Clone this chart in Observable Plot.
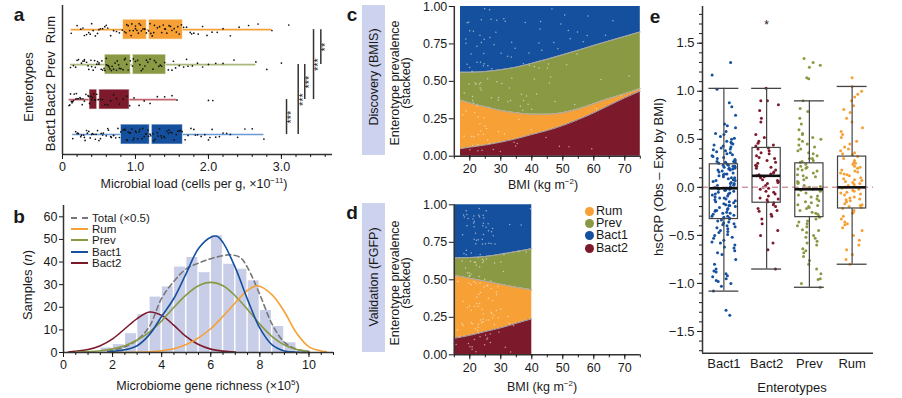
<!DOCTYPE html>
<html><head><meta charset="utf-8">
<script src="https://cdn.jsdelivr.net/npm/d3@7"></script>
<script src="https://cdn.jsdelivr.net/npm/@observablehq/plot@0.6"></script>
<style>
body{margin:0;background:#fff;}
#fig{position:relative;width:902px;height:398px;overflow:hidden;font-family:'Liberation Sans',Arial,Helvetica,sans-serif;color:#1a1a1a;}
#fig > svg, #fig > figure{position:absolute;margin:0;}
.lab{position:absolute;white-space:nowrap;font-size:12.5px;transform:translate(-50%,-50%);line-height:1;}
.rot{transform:translate(-50%,-50%) rotate(-90deg);}
.letter{position:absolute;font-weight:bold;font-size:19px;transform:translate(-50%,-50%);}
sup{font-size:8px;vertical-align:5px;line-height:0;}
.box{position:absolute;background:#cdd3ee;}
.leg{position:absolute;font-size:12.5px;line-height:12px;white-space:nowrap;}
.leg span.dot{display:inline-block;width:9px;height:9px;border-radius:50%;margin-right:2px;vertical-align:-1px;}
.bleg{position:absolute;font-size:11.5px;white-space:nowrap;line-height:11px;}
.bleg span.ln{display:inline-block;width:17px;height:0;border-top:2px solid;vertical-align:3px;margin-right:4px;}
</style></head>
<body><div id="fig"></div>
<script>
// ---------- colours ----------
const COL = {Rum:"#f6a035", Prev:"#8a9944", Bact1:"#15509e", Bact2:"#7c1a2b"};
const TINT = {Rum:"#f6a035", Prev:"#aab97c", Bact1:"#6b9ad8", Bact2:"#c3646f"};

// ---------- panel a : microbial load ----------
const aCats = ["Bact1","Bact2","Prev","Rum"];
const aQ1  = [0.80, 0.37, 0.58, 0.83];
const aMed = [1.21, 0.49, 0.95, 1.17];
const aQ3  = [1.65, 0.92, 1.42, 1.65];
const aLo  = [0.14, 0.09, 0.11, 0.12];
const aHi  = [2.76, 1.57, 2.65, 2.87];
const loadBact1 = [0.14,0.18,0.22,0.26,0.3,0.33,0.36,0.4,0.43,0.46,0.5,0.53,0.56,0.6,0.63,0.66,0.7,0.73,0.76,0.8,0.83,0.86,0.89,0.92,0.95,0.98,1.0,1.03,1.06,1.09,1.12,1.15,1.18,1.21,1.24,1.27,1.3,1.33,1.36,1.4,1.43,1.46,1.5,1.53,1.56,1.6,1.64,1.68,1.72,1.76,1.8,1.85,1.9,1.95,2.0,2.05,2.1,2.15,2.2,2.25,2.3,2.4,2.5,2.6,2.76,0.9,0.97,1.1,1.2,1.35,1.45,0.7,0.55,1.25,1.05,0.25,0.38,0.48,0.62,0.78,0.88,1.14,1.31,1.48,1.58,0.21,0.34,0.45,0.29,0.41,0.52,0.67,0.85,0.93,1.01,1.17,1.39,1.62,1.82,2.02,0.2,0.31];
const loadBact2 = [0.09,0.1,0.12,0.14,0.16,0.18,0.2,0.22,0.25,0.28,0.3,0.32,0.35,0.37,0.39,0.41,0.43,0.45,0.47,0.49,0.52,0.55,0.58,0.62,0.66,0.7,0.74,0.78,0.83,0.88,0.92,0.98,1.05,1.12,1.2,1.3,1.4,1.5,1.57,2.0,2.06,0.15,0.27,0.4,0.44,0.11,0.13,0.19,0.24,0.36];
const loadPrev = [0.11,0.15,0.18,0.22,0.26,0.3,0.33,0.36,0.39,0.42,0.45,0.48,0.5,0.53,0.55,0.57,0.6,0.62,0.65,0.67,0.7,0.72,0.75,0.78,0.8,0.83,0.86,0.9,0.93,0.96,1.0,1.03,1.06,1.1,1.13,1.17,1.2,1.24,1.28,1.32,1.36,1.4,1.45,1.5,1.55,1.6,1.66,1.72,1.78,1.85,1.92,2.0,2.1,2.2,2.35,2.65,2.8,3.0,0.5,0.6,0.68,0.74,0.85,0.97,1.15,0.3,0.4,0.2,0.28,0.44,0.58,0.64,0.88,1.26,1.7,0.35,0.47,0.54,0.63,0.77,1.08,1.34,1.52];
const loadRum = [0.12,0.2,0.25,0.3,0.33,0.36,0.4,0.42,0.45,0.5,0.55,0.58,0.62,0.66,0.7,0.74,0.78,0.82,0.85,0.88,0.9,0.92,0.95,0.97,1.0,1.02,1.05,1.08,1.1,1.12,1.15,1.18,1.2,1.23,1.26,1.3,1.33,1.36,1.4,1.43,1.46,1.5,1.53,1.56,1.6,1.63,1.66,1.7,1.75,1.8,1.86,1.92,1.98,2.05,2.12,2.2,2.3,2.42,2.55,2.68,2.87,3.1,0.94,1.0,1.07,1.13,1.25,1.38,0.48,0.6,0.28,0.38,0.52,1.48,1.58,0.87,1.04,1.21,1.41,1.77];
const sigPairs = [["Bact1","Bact2"],["Bact1","Prev"],["Bact2","Prev"],["Bact2","Rum"],["Prev","Rum"]];
const sigLabels = ["***","***","***","***","**"];
const sigX = [3.07, 3.23, 3.32, 3.44, 3.54];

// ---------- panel b : gene richness ----------
const histX0 = [1.5,2,2.5,3,3.5,4,4.5,5,5.5,6,6.5,7,7.5,8,8.5,9,9.5];
const histN  = [2,3.5,8.3,16.7,24.5,29,37.8,42,35.3,51.6,39,36.8,31.7,18.6,11.5,4.3,1];
const curveX_Bact2 = [0.2,0.5,1,1.5,2,2.5,3,3.5,4,4.5,5,5.5,6,6.5,7];
const curveY_Bact2 = [0.2,0.5,1.3,3,6,10.5,15,17.9,16.4,12,7,3.5,1.5,0.6,0.2];
const curveX_Prev = [0.5,1,1.5,2,2.5,3,3.5,4,4.5,5,5.5,6,6.5,7,7.5,8,8.5,9,9.5,10];
const curveY_Prev = [0.2,0.4,0.8,1.6,3,5.5,9,14,20,25.5,29.5,31,29.5,25,19,12.5,7,3.3,1.3,0.4];
const curveX_Bact1 = [1.8,2,2.5,3,3.5,4,4.5,5,5.5,6,6.25,6.5,7,7.5,8,8.5,9,9.5,10];
const curveY_Bact1 = [0.2,0.5,1.2,3,7.9,16,24,35,46,51,51.4,48.6,37.5,23.4,10.8,3.4,0.7,0.1,0];
const curveX_Rum = [1.9,3,4,4.5,5,5.5,6,6.5,7,7.5,7.9,8.5,9,9.5,10,10.5,10.7];
const curveY_Rum = [0,0.1,0.8,1.7,3.5,6.5,10.5,16,22,27.5,29.5,25.5,18,8.5,2.5,0.7,0.4];
const curveX_Total = [1.8,2.5,3,3.5,4,4.5,5,5.5,6,6.5,6.8,7.2,7.5,8,8.5,9,9.5,10];
const curveY_Total = [0.5,2.5,5.5,11.5,24,31.5,37,39.5,41.5,42.8,43.2,42,37.5,25.6,12.5,4.5,1.5,0.4];

// ---------- panel c : discovery (BMIS) boundaries ----------
const cBMI   = [17,20,25,30,35,40,45,50,55,60,65,70,75];
const cBact2 = [0.05,0.06,0.075,0.094,0.117,0.145,0.172,0.205,0.245,0.29,0.34,0.39,0.435];
const cRum   = [0.375,0.355,0.33,0.305,0.29,0.28,0.28,0.29,0.315,0.35,0.385,0.417,0.452];
const cPrev  = [0.56,0.56,0.565,0.577,0.595,0.62,0.647,0.677,0.708,0.74,0.77,0.80,0.83];
const cSampleBMI = [17.5,18,18.4,18.9,19.3,19.8,20.2,20.6,21,21.3,21.7,22,22.2,22.5,22.8,23,23.3,23.5,23.8,24,24.2,24.5,24.8,25,25.3,25.6,26,26.4,26.8,27.2,27.7,28.1,28.6,29,29.5,30,30.6,31.2,31.8,32.4,33,33.7,34.3,35,35.6,36.3,37,37.7,38.4,39,39.8,40.5,41.2,42,42.8,43.5,44.3,45.1,46,46.8,47.7,48.6,49.5,50.5,51.5,52.6,53.8,55,56.3,57.7,59,60.5,62.2,64,66,68.5,71,19.1,20.9,21.9,22.6,23.4,24.1,24.7,25.8,27,28.4,30.3,32.8,35.3,38,41.5,44.8,48.2,52,23.7,25.1,26.2,21.5,22.1,20.4,36.7,40.1,43.1,38.9,18.7,19.6,20.7,21.2,22.4,23.1,24.4,26.6,29.7,33.2,45.6,54.3,18.2,19.9,21.1,22.3,23.6,24.9,27.5,31.5,34.7,37.2,39.4,42.4,47.1,50.9,58.2,20.1,22.9,25.5,28.9,33.9];

// ---------- panel d : validation (FGFP) boundaries ----------
const dBMI   = [15,20,25,30,35,40];
const dBact2 = [0.11,0.13,0.155,0.18,0.21,0.24];
const dRum   = [0.53,0.51,0.49,0.47,0.45,0.433];
const dPrev  = [0.645,0.648,0.655,0.67,0.688,0.707];
const dSampleBMI = [15.6,16.2,16.8,17.3,17.7,18,18.3,18.6,18.9,19.1,19.4,19.6,19.8,20,20.2,20.4,20.6,20.8,21,21.2,21.3,21.5,21.7,21.9,22,22.2,22.4,22.5,22.7,22.9,23,23.2,23.4,23.5,23.7,23.9,24,24.2,24.4,24.6,24.8,25,25.2,25.4,25.6,25.9,26.1,26.4,26.7,27,27.3,27.6,28,28.4,28.8,29.2,29.7,30.2,30.8,31.4,32,32.7,33.5,34.4,35.4,36.5,37.8,39.2,19.2,19.7,20.5,21.1,21.6,22.1,22.6,23.1,23.6,24.1,24.5,25.1,25.7,26.3,27.1,28.2,29.5,18.2,19.9,20.9,21.8,22.3,22.8,23.3,23.8,24.3,24.9,25.5,26.6,27.8,31,33,17.5,16.5,20.1,21.4,22.95,24.7,26.9,18.8,20.3,21.45,22.15,23.35,24.25,25.3,26.2,27.5,29,19.5,22.45,23.9,25.8,19.3,20.7,21.9,23.0,24.0,25.0,26.0,27.2,28.6,30.5,17.9,19.0,20.0,21.0,22.0,23.0,24.0,25.0,26.5,28.0,22.5,23.5,24.5,21.5,20.5];

// ---------- panel e : hsCRP residuals ----------
const eCats = ["Bact1","Bact2","Prev","Rum"];
const eQ1  = [-0.33,-0.16,-0.31,-0.22];
const eMed = [-0.01, 0.12,-0.02, 0.00];
const eQ3  = [ 0.24, 0.41, 0.25, 0.32];
const eLo  = [-1.08,-0.85,-1.04,-0.80];
const eHi  = [ 1.03, 1.03, 0.90, 1.05];
const eStarCat = ["Bact2"];
const eStarVal = [1.72];
const crpBact1 = [1.30,1.17,1.02,0.88,0.84,0.75,0.66,0.64,0.62,0.58,0.55,0.53,0.5,0.48,0.47,0.45,0.43,0.42,0.4,0.38,0.37,0.35,0.33,0.32,0.3,0.29,0.27,0.26,0.25,0.24,0.23,0.22,0.21,0.2,0.19,0.18,0.17,0.15,0.14,0.12,0.11,0.1,0.08,0.07,0.05,0.04,0.03,0.02,0.01,0.0,-0.01,-0.02,-0.03,-0.05,-0.06,-0.08,-0.1,-0.11,-0.13,-0.14,-0.16,-0.18,-0.19,-0.2,-0.22,-0.24,-0.25,-0.27,-0.29,-0.3,-0.32,-0.34,-0.35,-0.37,-0.39,-0.41,-0.42,-0.45,-0.47,-0.5,-0.52,-0.55,-0.58,-0.6,-0.63,-0.66,-0.7,-0.75,-0.8,-0.85,-0.87,-0.9,-0.92,-0.95,-0.97,-1.0,-1.03,-1.08,-1.28,-1.33,0.56,0.51,0.46,0.41,0.36,0.31,0.28,0.26,0.23,0.21,0.19,0.16,0.13,0.09,0.06,0.02,-0.02,-0.04,-0.07,-0.09,-0.12,-0.15,-0.17,-0.21,-0.23,-0.26,-0.28,-0.31,-0.33,-0.36,-0.38,-0.43,-0.46,-0.49,-0.53,-0.57,-0.62,-0.68,-0.88,-0.93,-0.98,0.34,0.22,0.18,0.1,0.04,-0.01,-0.07,-0.15,-0.24,-0.3,0.44,0.39,0.27,0.2,0.14,0.07,-0.03,-0.11,-0.19,-0.27,-0.4];
const crpBact2 = [1.03,0.9,0.9,0.86,0.8,0.72,0.68,0.55,0.52,0.48,0.46,0.44,0.43,0.41,0.4,0.38,0.36,0.33,0.31,0.3,0.28,0.26,0.25,0.23,0.21,0.2,0.18,0.16,0.15,0.14,0.12,0.11,0.1,0.08,0.07,0.05,0.04,0.02,0.0,-0.02,-0.04,-0.05,-0.07,-0.09,-0.11,-0.13,-0.15,-0.16,-0.18,-0.2,-0.22,-0.25,-0.28,-0.3,-0.33,-0.38,-0.45,-0.5,-0.58,-0.65,-0.85,0.35,0.22,0.13,0.06,-0.01,-0.12,-0.24];
const crpPrev = [1.34,1.3,1.27,1.25,1.14,1.13,0.9,0.82,0.79,0.72,0.66,0.6,0.56,0.55,0.52,0.5,0.48,0.45,0.42,0.4,0.38,0.35,0.33,0.3,0.28,0.26,0.24,0.22,0.21,0.19,0.17,0.15,0.13,0.11,0.1,0.08,0.06,0.04,0.02,0.01,-0.01,-0.02,-0.04,-0.06,-0.08,-0.1,-0.12,-0.14,-0.16,-0.18,-0.2,-0.22,-0.24,-0.26,-0.28,-0.3,-0.31,-0.33,-0.35,-0.38,-0.41,-0.44,-0.47,-0.5,-0.53,-0.56,-0.6,-0.64,-0.68,-0.72,-0.76,-0.8,-0.85,-0.9,-0.95,-0.96,-1.0,-1.04,0.5,0.44,0.36,0.27,0.18,0.12,0.05,-0.03,-0.09,-0.15,-0.21,-0.27,-0.36,-0.45,-0.52,-0.58,-0.66,0.3,0.2,0.0,-0.19,-0.4];
const crpRum = [1.14,1.05,1.0,0.97,0.94,0.9,0.85,0.81,0.78,0.72,0.68,0.62,0.58,0.55,0.52,0.48,0.45,0.42,0.4,0.38,0.36,0.34,0.32,0.3,0.28,0.26,0.24,0.22,0.2,0.18,0.17,0.15,0.13,0.12,0.1,0.08,0.07,0.05,0.03,0.02,0.0,-0.01,-0.03,-0.05,-0.06,-0.08,-0.1,-0.12,-0.14,-0.15,-0.17,-0.19,-0.21,-0.22,-0.24,-0.27,-0.3,-0.33,-0.36,-0.39,-0.42,-0.45,-0.5,-0.55,-0.6,-0.65,-0.7,-0.75,-0.8,0.35,0.25,0.16,0.09,0.04,-0.02,-0.07,-0.13,-0.2,-0.26,-0.38,0.21,0.14,0.06,-0.04,-0.11,-0.18];

// ---------- helpers ----------
const FONT = "'Liberation Sans', Arial, Helvetica, sans-serif";
// deterministic layout jitter (position only, not data)
const hash = (i, s) => { const t = Math.sin(i * 12.9898 + s * 78.233) * 43758.5453; return t - Math.floor(t); };
const jit = (i, s = 1) => hash(i, s) - 0.5;
const fig = document.getElementById("fig");
function place(svg, left, top) { svg.style.left = left + "px"; svg.style.top = top + "px"; fig.appendChild(svg); }
function style(fs) { return {fontFamily: FONT, fontSize: fs, color: "#1a1a1a", background: "transparent", overflow: "visible"}; }
function html(s) { fig.insertAdjacentHTML("beforeend", s); }

// ===== Panel a =====
{
  const pos = c => aCats.indexOf(c) + 1;
  const boxes = aCats.map((c, i) => ({c, pos: i + 1, q1: aQ1[i], med: aMed[i], q3: aQ3[i], lo: aLo[i], hi: aHi[i]}));
  const series = {Bact1: loadBact1, Bact2: loadBact2, Prev: loadPrev, Rum: loadRum};
  const pts = aCats.flatMap((c, k) => series[c].map((v, i) => ({v, y: pos(c) + jit(i, k + 1) * 0.36})));
  const sig = sigPairs.map((p, i) => ({x: sigX[i], y1: pos(p[0]), y2: pos(p[1]), label: sigLabels[i]}));
  const svg = Plot.plot({
    width: 345, height: 195, marginLeft: 62, marginRight: 13, marginTop: 5, marginBottom: 41,
    style: style("12.5px"),
    color: {type: "identity"},
    x: {domain: [0, 3.7], axis: null},
    y: {domain: [0.43, 4.69], axis: null},
    marks: [
      Plot.ruleY(boxes, {y: "pos", x1: "lo", x2: "hi", stroke: d => TINT[d.c], strokeWidth: 1.6}),
      Plot.rect(boxes, {x1: "q1", x2: "med", y1: d => d.pos - 0.285, y2: d => d.pos + 0.285, fill: d => COL[d.c], stroke: "#ffffff", strokeOpacity: 0.6, insetRight: 1}),
      Plot.rect(boxes, {x1: "med", x2: "q3", y1: d => d.pos - 0.285, y2: d => d.pos + 0.285, fill: d => COL[d.c], stroke: "#ffffff", strokeOpacity: 0.6, insetLeft: 1}),
      Plot.dot(pts, {x: "v", y: "y", r: 0.85, fill: "#111", stroke: null}),
      Plot.ruleX(sig, {x: "x", y1: "y1", y2: "y2", stroke: "#333", strokeWidth: 1.5}),
      Plot.text(sig, {x: d => d.x + 0.07, y: d => (d.y1 + d.y2) / 2, text: "label", rotate: -90, fontSize: 11, fill: "#222"}),
      Plot.text(boxes, {x: () => -0.165, y: "pos", text: "c", rotate: -90, fontSize: 13}),
      Plot.ruleX([0], {stroke: "#333", strokeWidth: 1.5}),
      Plot.ruleY([0.43], {stroke: "#333", strokeWidth: 1.5}),
      Plot.axisX({ticks: [0, 1, 2, 3], tickFormat: d => d === 0 ? "0" : d.toFixed(1), tickSize: 5, tickPadding: 3, label: null}),
      Plot.axisX({ticks: d3.range(0, 19).map(k => k / 5), tickFormat: () => "", tickSize: 3, label: null})
    ]
  });
  place(svg, 0, 0);
}

// ===== Panel b =====
{
  const hist = histX0.map((x0, i) => ({x0, n: histN[i]}));
  const mk = (xs, ys) => xs.map((x, i) => ({x, y: ys[i]}));
  const svg = Plot.plot({
    width: 345, height: 203, marginLeft: 63, marginRight: 12, marginTop: 10, marginBottom: 46,
    style: style("12.5px"),
    x: {domain: [0, 11], axis: null},
    y: {domain: [0, 65], axis: null},
    marks: [
      Plot.rectY(hist, {x1: "x0", x2: d => d.x0 + 0.5, y: "n", fill: "#c8cee8", insetLeft: 0.7, insetRight: 0.7}),
      Plot.line(mk(curveX_Total, curveY_Total), {x: "x", y: "y", stroke: "#777", strokeWidth: 1.6, strokeDasharray: "5,3.5", curve: "catmull-rom"}),
      Plot.line(mk(curveX_Bact2, curveY_Bact2), {x: "x", y: "y", stroke: COL.Bact2, strokeWidth: 1.6, curve: "catmull-rom"}),
      Plot.line(mk(curveX_Prev, curveY_Prev), {x: "x", y: "y", stroke: COL.Prev, strokeWidth: 1.6, curve: "catmull-rom"}),
      Plot.line(mk(curveX_Rum, curveY_Rum), {x: "x", y: "y", stroke: COL.Rum, strokeWidth: 1.6, curve: "catmull-rom"}),
      Plot.line(mk(curveX_Bact1, curveY_Bact1), {x: "x", y: "y", stroke: COL.Bact1, strokeWidth: 1.6, curve: "catmull-rom"}),
      Plot.ruleX([0], {stroke: "#333", strokeWidth: 1.5}),
      Plot.ruleY([0], {stroke: "#333", strokeWidth: 1.5}),
      Plot.axisY({ticks: d3.range(0, 61, 10), tickSize: 4, tickPadding: 2, label: null}),
      Plot.axisX({ticks: d3.range(0, 11, 2), tickSize: 5, tickPadding: 3, label: null}),
      Plot.axisX({ticks: d3.range(0, 23).map(k => k / 2), tickFormat: () => "", tickSize: 3, label: null})
    ]
  });
  place(svg, 0, 195);
}

// ===== Panels c & d =====
function stackPanel(bmi, b1, b2, b3, samples, top, mT, mB, H, seed) {
  const rows = bmi.map((x, i) => ({x, b1: b1[i], b2: b2[i], b3: b3[i]}));
  const xmin = d3.min(bmi), xmax = d3.max(bmi);
  const dots = samples.map((x, i) => ({x: x + jit(i, seed + 7) * 0.8, y: 0.015 + hash(i, seed) * 0.97})).filter(d => d.x >= xmin + 0.3 && d.x <= xmax - 0.3);
  const cv = "monotone-x";
  const svg = Plot.plot({
    width: 250, height: H, marginLeft: 58.8, marginRight: 5.2, marginTop: mT, marginBottom: mB,
    style: style("12.5px"),
    x: {domain: [15, 75], axis: null},
    y: {domain: [0, 1], axis: null},
    marks: [
      Plot.areaY(rows, {x: "x", y1: 0, y2: "b1", fill: COL.Bact2, curve: cv}),
      Plot.areaY(rows, {x: "x", y1: "b1", y2: "b2", fill: COL.Rum, curve: cv}),
      Plot.areaY(rows, {x: "x", y1: "b2", y2: "b3", fill: COL.Prev, curve: cv}),
      Plot.areaY(rows, {x: "x", y1: "b3", y2: 1, fill: COL.Bact1, curve: cv}),
      Plot.dot(dots, {x: "x", y: "y", r: 0.75, fill: "#ffffff", fillOpacity: 0.55, stroke: null}),
      Plot.lineY(rows, {x: "x", y: "b1", stroke: "#a9a9a9", strokeWidth: 1, curve: cv}),
      Plot.lineY(rows, {x: "x", y: "b2", stroke: "#a9a9a9", strokeWidth: 1, curve: cv}),
      Plot.lineY(rows, {x: "x", y: "b3", stroke: "#a9a9a9", strokeWidth: 1, curve: cv}),
      Plot.ruleX([15], {stroke: "#333", strokeWidth: 1.5}),
      Plot.ruleY([0], {stroke: "#333", strokeWidth: 1.5}),
      Plot.axisY({ticks: [0, 0.25, 0.5, 0.75, 1], tickFormat: d => d.toFixed(2), tickSize: 5, tickPadding: 2, label: null}),
      Plot.axisX({ticks: d3.range(20, 71, 10), tickSize: 5, tickPadding: 3, label: null}),
      Plot.axisX({ticks: d3.range(15, 76, 5), tickFormat: () => "", tickSize: 3, label: null})
    ]
  });
  place(svg, 395, top);
}
stackPanel(cBMI, cBact2, cRum, cPrev, cSampleBMI, 0, 6, 39.3, 195, 3);
stackPanel(dBMI, dBact2, dRum, dPrev, dSampleBMI, 195, 9.3, 43.7, 203, 5);

// ===== Panel e =====
{
  const boxes = eCats.map((c, k) => ({c, i: k + 1, q1: eQ1[k], med: eMed[k], q3: eQ3[k], lo: eLo[k], hi: eHi[k]}));
  const series = {Bact1: crpBact1, Bact2: crpBact2, Prev: crpPrev, Rum: crpRum};
  const pts = eCats.flatMap((c, k) => series[c].map((v, j) => ({c, x: k + 1 + jit(j, k + 11) * 0.56, v})));
  const stars = eStarCat.map((c, k) => ({x: eCats.indexOf(c) + 1, v: eStarVal[k]}));
  const svg = Plot.plot({
    width: 262, height: 398, marginLeft: 62, marginRight: 29, marginTop: 6, marginBottom: 45.3,
    style: style("13px"),
    color: {type: "identity"},
    x: {domain: [0.5, 4.5], axis: null},
    y: {domain: [-1.726, 1.882], axis: null},
    marks: [
      Plot.dot(pts, {x: "x", y: "v", r: 1.5, fill: d => COL[d.c], stroke: null}),
      Plot.ruleY([0], {stroke: "#d49aa4", strokeWidth: 1.5, strokeDasharray: "6,4"}),
      Plot.ruleX(boxes, {x: "i", y1: "lo", y2: "q1", stroke: "#444", strokeWidth: 1.2}),
      Plot.ruleX(boxes, {x: "i", y1: "q3", y2: "hi", stroke: "#444", strokeWidth: 1.2}),
      Plot.ruleY(boxes, {y: "lo", x1: d => d.i - 0.35, x2: d => d.i + 0.35, stroke: "#444", strokeWidth: 1.3}),
      Plot.ruleY(boxes, {y: "hi", x1: d => d.i - 0.35, x2: d => d.i + 0.35, stroke: "#444", strokeWidth: 1.3}),
      Plot.rect(boxes, {x1: d => d.i - 0.33, x2: d => d.i + 0.33, y1: "q1", y2: "q3", fill: "none", stroke: "#444", strokeWidth: 1.2}),
      Plot.ruleY(boxes, {y: "med", x1: d => d.i - 0.33, x2: d => d.i + 0.33, stroke: "#111", strokeWidth: 2.6}),
      Plot.text(stars, {x: "x", y: "v", text: () => "*", fontSize: 12, dy: 3}),
      Plot.ruleX([0.5], {stroke: "#333", strokeWidth: 1.5}),
      Plot.ruleY([-1.726], {stroke: "#333", strokeWidth: 1.5}),
      Plot.axisY({ticks: d3.range(-3, 4).map(k => k / 2), tickFormat: d3.format(".1f"), tickSize: 5, tickPadding: 3, label: null}),
      Plot.axisY({ticks: d3.range(-17, 19).map(k => k / 10), tickFormat: () => "", tickSize: 3, label: null}),
      Plot.axisX({ticks: [1, 2, 3, 4], tickFormat: i => eCats[i - 1], tickSize: 0, tickPadding: 6, label: null})
    ]
  });
  place(svg, 640, 0);
}

// ===== HTML labels =====
html(`<div class="letter" style="left:19px;top:15px">a</div>`);
html(`<div class="letter" style="left:19px;top:217px">b</div>`);
html(`<div class="letter" style="left:352px;top:15px">c</div>`);
html(`<div class="letter" style="left:352px;top:213px">d</div>`);
html(`<div class="letter" style="left:655px;top:17px">e</div>`);

html(`<div class="lab rot" style="left:28px;top:87px;font-size:13px">Enterotypes</div>`);
html(`<div class="lab" style="left:194px;top:184px">Microbial load (cells per g, ×10<sup>−11</sup>)</div>`);
html(`<div class="lab rot" style="left:27px;top:285px;font-size:13px">Samples (<i>n</i>)</div>`);
html(`<div class="lab" style="left:208px;top:386px">Microbiome gene richness (×10<sup>5</sup>)</div>`);

html(`<div class="box" style="left:362px;top:5px;width:23px;height:150px"></div>`);
html(`<div class="lab rot" style="left:374px;top:77px">Discovery (BMIS)</div>`);
html(`<div class="box" style="left:362px;top:203px;width:23px;height:149px"></div>`);
html(`<div class="lab rot" style="left:374px;top:277px">Validation (FGFP)</div>`);
html(`<div class="lab rot" style="left:401px;top:83px;text-align:center;line-height:11px">Enterotype prevalence<br>(stacked)</div>`);
html(`<div class="lab rot" style="left:401px;top:283px;text-align:center;line-height:11px">Enterotype prevalence<br>(stacked)</div>`);
html(`<div class="lab" style="left:543px;top:185px">BMI (kg m<sup>−2</sup>)</div>`);
html(`<div class="lab" style="left:542px;top:387px">BMI (kg m<sup>−2</sup>)</div>`);

html(`<div class="lab rot" style="left:658px;top:177px;font-size:13px">hsCRP (Obs – Exp by BMI)</div>`);
html(`<div class="lab" style="left:792px;top:387px;font-size:13px">Enterotypes</div>`);

// legend (c/d)
const legNames = ["Rum","Prev","Bact1","Bact2"];
legNames.forEach((n, i) => html(`<div class="leg" style="left:585px;top:${205 + i * 12.2}px"><span class="dot" style="background:${COL[n]}"></span>${n}</div>`));
// legend (b)
const bLeg = [["Total (×0.5)", "#777", "dashed"], ["Rum", COL.Rum, "solid"], ["Prev", COL.Prev, "solid"], ["Bact1", COL.Bact1, "solid"], ["Bact2", COL.Bact2, "solid"]];
bLeg.forEach((d, i) => html(`<div class="bleg" style="left:71px;top:${212.5 + i * 11.4}px"><span class="ln" style="border-top-color:${d[1]};border-top-style:${d[2]}"></span>${d[0]}</div>`));
</script>
</body></html>
